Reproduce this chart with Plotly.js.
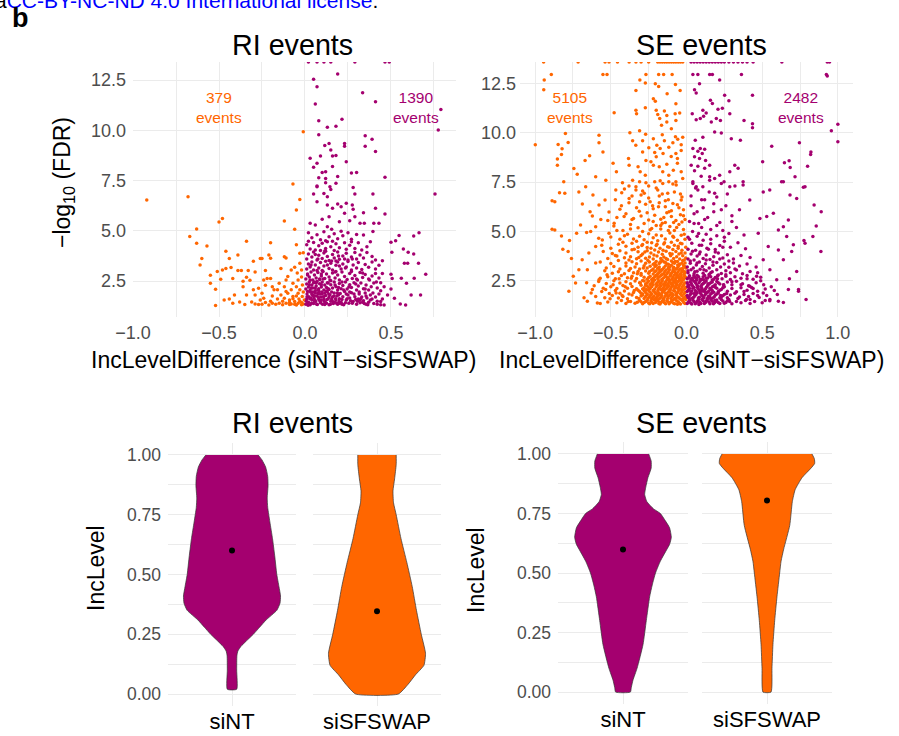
<!DOCTYPE html>
<html>
<head>
<meta charset="utf-8">
<script src="https://cdn.plot.ly/plotly-3.0.1.min.js"></script>
<style>html,body{margin:0;padding:0;background:#fff;}#chart{width:899px;height:736px;}</style>
</head>
<body>
<div id="chart"></div>
<script>
// ---------------- DATA ----------------
// RI events: IncLevelDifference vs -log10(FDR)
const riDown = [[-0.92,6.53],[-0.68,6.7],[-0.07,7.33],[-0.03,6.56],[-0.05,6.03],[-0.06,5.08],[-0.12,5.49],[-0.48,5.61],[-0.5,5.44],[-0.63,5.09],[-0.67,4.71],[-0.63,4.38],[-0.57,4.24],[-0.05,4.31],[-0.34,4.48],[-0.2,4.4],[-0.46,3.98],[-0.6,3.62],[-0.61,3.3],[-0.44,3.62],[-0.39,3.8],[-0.26,3.62],[-0.25,3.62],[-0.21,3.8],[-0.2,3.63],[-0.12,3.71],[-0.11,3.65],[-0.3,3.49],[-0.03,3.88],[-0.01,3.91],[-0.55,2.79],[-0.51,2.97],[-0.48,3.05],[-0.46,3.12],[-0.43,3.17],[-0.49,2.59],[-0.55,2.39],[-0.52,2.09],[-0.39,3.02],[-0.37,3.02],[-0.33,3.02],[-0.34,2.69],[-0.42,2.62],[-0.36,2.49],[-0.32,2.54],[-0.29,2.95],[-0.23,3.02],[-0.14,3.12],[-0.1,2.73],[-0.08,3.05],[-0.06,3.18],[-0.03,3.38],[-0.02,3.05],[-0.24,2.55],[-0.22,2.62],[-0.2,2.62],[-0.23,2.29],[-0.19,2.22],[-0.15,2.39],[-0.16,2.06],[-0.11,2.55],[-0.07,2.39],[-0.05,2.22],[-0.04,2.55],[-0.36,2.22],[-0.34,1.81],[-0.41,1.81],[-0.3,2.06],[-0.29,1.81],[-0.47,1.56],[-0.42,1.39],[-0.52,1.28],[-0.38,1.46],[-0.31,1.46],[-0.29,1.36],[-0.26,1.56],[-0.24,1.64],[-0.23,1.43],[-0.21,1.31],[-0.19,1.39],[-0.19,1.76],[-0.16,1.6],[-0.15,1.39],[-0.14,1.81],[-0.12,1.64],[-0.11,1.39],[-0.1,1.89],[-0.09,1.56],[-0.08,1.36],[-0.07,1.73],[-0.06,1.48],[-0.05,1.31],[-0.04,1.89],[-0.035,1.6],[-0.02,1.43],[-0.016,1.73],[-0.01,1.36],[-0.004,1.56],[-0.03,2.06],[-0.08,2.06],[-0.18,2.06],[-0.12,2.22],[-0.27,2.14],[-0.25,1.89],[-0.01,9.93],[-0.02,1.32],[-0.04,1.4],[-0.06,1.34],[-0.09,1.33],[-0.13,1.32],[-0.17,1.35],[-0.03,1.5],[-0.07,1.62],[-0.01,1.95],[-0.015,2.3],[-0.05,1.75],[-0.09,1.45],[-0.13,1.5],[-0.27,1.33],[-0.35,1.33],[-0.44,1.6],[-0.02,2.7],[-0.045,2.9],[-0.11,1.98],[-0.2,1.5],[-0.25,1.35]];

const riUp = [[0.02,13.4],[0.07,13.4],[0.11,13.4],[0.15,13.4],[0.29,13.4],[0.465,13.4],[0.49,13.4],[0.19,12.8],[0.05,12.54],[0.07,12.17],[0.335,11.87],[0.41,11.42],[0.06,11.31],[0.79,11.04],[0.775,10.01],[0.215,10.55],[0.08,10.48],[0.13,10.15],[0.18,10.2],[0.08,9.78],[0.35,9.73],[0.39,9.55],[0.14,9.35],[0.115,9.24],[0.23,9.35],[0.23,9.21],[0.35,9.21],[0.15,9.02],[0.41,8.94],[0.03,8.61],[0.09,8.72],[0.16,8.72],[0.18,8.75],[0.07,8.36],[0.24,8.44],[0.05,8.16],[0.16,8.2],[0.12,7.94],[0.1,7.9],[0.27,7.88],[0.3,7.9],[0.08,7.64],[0.12,7.6],[0.19,7.7],[0.465,7.67],[0.12,7.39],[0.07,7.19],[0.145,7.19],[0.28,7.15],
[0.07,7.23],[0.18,7.36],[0.05,6.83],[0.11,6.86],[0.13,6.7],[0.15,7.06],[0.29,6.83],[0.395,6.83],[0.07,6.45],[0.13,6.28],[0.16,6.12],[0.19,6.33],[0.21,6.2],[0.24,6.37],[0.275,6.28],[0.28,6.07],[0.34,5.9],[0.41,6.12],[0.465,5.84],[0.756,6.83],[0.03,5.37],[0.06,5.29],[0.1,5.57],[0.13,5.2],[0.14,5.7],[0.155,5.08],[0.2,5.45],[0.23,5.87],[0.26,5.5],[0.29,5.7],[0.32,5.37],[0.345,5.37],[0.4,5.37],[0.43,5.37],[0.34,4.79],[0.395,4.96],[0.547,4.76],[0.632,4.74],[0.663,4.9],[0.5,4.43],[0.527,4.51],[0.505,3.93],[0.572,4.1],[0.6,3.93],[0.632,3.85],[0.578,3.38],[0.597,3.38],[0.66,3.38],[0.702,2.84],[0.635,2.64],[0.56,2.64],[0.5,2.84],[0.507,2.62],[0.59,2.39],[0.5,2.1],[0.48,1.81],[0.52,1.64],[0.617,1.81],[0.672,1.81],[0.554,1.36],[0.585,1.31],[0.45,2.88],[0.44,2.42],[0.46,2.22],[0.44,1.48],[0.46,1.31],[0.45,3.51],[0.43,3.28],
[0.02,4.9],[0.04,4.65],[0.07,4.8],[0.09,4.55],[0.11,4.95],[0.14,4.7],[0.17,4.85],[0.19,4.6],[0.22,4.75],[0.25,4.9],[0.27,4.58],[0.3,4.82],[0.21,4.98],[0.12,4.5],
[0.01,4.3],[0.03,4.1],[0.05,4.42],[0.06,4.05],[0.08,4.25],[0.1,4.38],[0.12,4.12],[0.13,4.45],[0.15,4.2],[0.17,4.02],[0.18,4.35],[0.2,4.15],[0.23,4.4],[0.24,4.08],[0.26,4.28],[0.29,4.12],[0.31,4.4],[0.33,4.05],[0.36,4.2],[0.38,4.45],[0.02,4.48],[0.09,4.02],[0.16,4.48],[0.27,4.46],
[0.01,3.6],[0.02,3.85],[0.04,3.7],[0.05,3.95],[0.07,3.55],[0.08,3.78],[0.1,3.62],[0.11,3.9],[0.13,3.72],[0.14,3.52],[0.16,3.82],[0.17,3.65],[0.19,3.95],[0.2,3.58],[0.22,3.75],[0.24,3.88],[0.25,3.55],[0.27,3.7],[0.29,3.92],[0.3,3.6],[0.32,3.8],[0.34,3.65],[0.36,3.92],[0.39,3.72],[0.41,3.55],[0.06,3.82],[0.12,3.98],[0.18,3.5],[0.23,3.6],
[0.01,3.1],[0.02,3.35],[0.03,3.2],[0.04,3.45],[0.05,3.05],[0.06,3.3],[0.08,3.15],[0.09,3.42],[0.1,3.02],[0.11,3.25],[0.12,3.48],[0.14,3.12],[0.15,3.38],[0.16,3.05],[0.18,3.28],[0.19,3.45],[0.21,3.1],[0.22,3.35],[0.24,3.2],[0.25,3.47],[0.27,3.05],[0.28,3.3],[0.3,3.15],[0.31,3.42],[0.33,3.08],[0.35,3.32],[0.37,3.18],[0.39,3.45],[0.41,3.1],[0.13,3.3],[0.07,3.02],[0.2,3.25],
[0.005,2.6],[0.015,2.85],[0.025,2.7],[0.035,2.95],[0.045,2.55],[0.055,2.8],[0.065,2.65],[0.075,2.92],[0.085,2.58],[0.095,2.75],[0.105,2.98],[0.115,2.62],[0.125,2.85],[0.14,2.7],[0.15,2.52],[0.16,2.9],[0.175,2.65],[0.19,2.8],[0.2,2.55],[0.215,2.95],[0.23,2.72],[0.245,2.58],[0.26,2.88],[0.275,2.62],[0.29,2.78],[0.305,2.55],[0.32,2.92],[0.335,2.68],[0.35,2.82],[0.37,2.6],[0.39,2.75],[0.41,2.88],[0.43,2.65],[0.18,2.98],[0.27,2.98],
[0.005,2.1],[0.01,2.35],[0.02,2.2],[0.025,2.45],[0.03,2.05],[0.04,2.3],[0.045,2.15],[0.05,2.42],[0.06,2.02],[0.065,2.25],[0.07,2.48],[0.08,2.12],[0.085,2.36],[0.095,2.2],[0.1,2.45],[0.11,2.05],[0.115,2.3],[0.125,2.18],[0.13,2.42],[0.14,2.08],[0.15,2.32],[0.16,2.15],[0.17,2.45],[0.18,2.22],[0.19,2.05],[0.2,2.38],[0.21,2.12],[0.22,2.28],[0.235,2.45],[0.245,2.1],[0.26,2.32],[0.27,2.18],[0.285,2.42],[0.3,2.05],[0.31,2.25],[0.325,2.4],[0.34,2.12],[0.355,2.3],[0.37,2.05],[0.385,2.22],[0.4,2.4],[0.42,2.15],[0.44,2.02],
[0.005,1.35],[0.01,1.6],[0.012,1.85],[0.02,1.45],[0.022,1.72],[0.03,1.32],[0.032,1.95],[0.04,1.55],[0.042,1.8],[0.05,1.38],[0.052,1.65],[0.06,1.9],[0.062,1.48],[0.07,1.75],[0.072,1.33],[0.08,1.58],[0.082,1.98],[0.09,1.42],[0.092,1.7],[0.1,1.85],[0.102,1.35],[0.11,1.6],[0.112,1.5],[0.12,1.78],[0.125,1.4],[0.13,1.95],[0.135,1.62],[0.14,1.32],[0.145,1.82],[0.15,1.5],[0.16,1.7],[0.165,1.38],[0.17,1.9],[0.18,1.55],[0.185,1.75],[0.19,1.35],[0.2,1.62],[0.205,1.88],[0.21,1.45],[0.22,1.72],[0.225,1.32],[0.23,1.98],[0.24,1.55],[0.25,1.8],[0.255,1.4],[0.26,1.65],[0.27,1.92],[0.28,1.48],[0.29,1.72],[0.3,1.35],[0.31,1.6],[0.315,1.85],[0.32,1.42],[0.33,1.7],[0.34,1.52],[0.35,1.9],[0.355,1.35],[0.36,1.65],[0.37,1.45],[0.38,1.8],[0.39,1.6],[0.4,1.38],[0.41,1.7],[0.42,1.5],[0.43,1.85],[0.44,1.32],[0.45,1.6],[0.015,1.4],[0.035,1.65],[0.055,1.52],[0.075,1.88],[0.095,1.55],[0.115,1.33],[0.155,1.6],[0.175,1.44],[0.195,1.8],[0.215,1.58],[0.235,1.42],[0.265,1.52],[0.285,1.85],[0.305,1.5],[0.325,1.62],[0.345,1.38]];

// denser core of the RI up-regulated cloud
const riUpDense = [[0.008,1.5],[0.018,1.3],[0.028,1.62],[0.038,1.4],[0.048,1.78],[0.058,1.55],[0.068,1.35],[0.078,1.68],[0.088,1.5],[0.098,1.95],[0.108,1.72],[0.118,1.45],[0.128,1.58],[0.138,1.85],[0.148,1.35],[0.158,1.52],[0.168,1.75],[0.178,1.62],[0.188,1.9],[0.198,1.48],[0.015,1.98],[0.035,2.15],[0.055,1.75],[0.075,2.05],[0.095,2.32],[0.115,1.9],[0.135,2.12],[0.155,1.95],[0.175,2.3],[0.195,2.18],[0.025,2.32],[0.065,2.4],[0.105,2.6],[0.145,2.55],[0.012,1.72],[0.045,1.95],[0.085,1.85],[0.125,2.0],[0.165,1.45],[0.185,1.38],[0.215,1.35],[0.245,1.62],[0.275,1.4],[0.295,1.58],[0.335,1.45],[0.365,1.32],
[0.015,2.8],[0.035,3.3],[0.055,2.45],[0.075,3.6],[0.095,2.85],[0.115,4.0],[0.135,2.4],[0.155,3.5],[0.175,2.95],[0.195,3.75],[0.215,2.45],[0.235,3.15],[0.255,2.2],[0.275,3.6],[0.295,2.35],[0.315,1.95],[0.335,2.9],[0.355,1.75],[0.375,2.55],[0.395,1.9],[0.415,2.45],[0.42,1.35],[0.38,1.55],[0.26,1.95],[0.32,1.55],[0.225,2.05],[0.06,2.15],[0.03,2.55],[0.085,2.6],[0.04,1.85],[0.14,1.7],[0.24,1.85],[0.3,2.6],[0.35,2.1],[0.2,1.4]];

// SE events
const seDown = [[-0.944,13.59],[-0.716,13.59],[-0.538,13.59],[-0.512,13.59],[-0.456,13.59],[-0.379,13.59],[-0.334,13.59],[-0.3,13.59],[-0.25,13.59],[-0.19,13.59],[-0.175,13.59],[-0.16,13.59],[-0.145,13.59],[-0.13,13.59],[-0.115,13.59],[-0.1,13.59],[-0.085,13.59],[-0.07,13.59],[-0.055,13.59],[-0.04,13.59],[-0.025,13.59],
[-0.893,12.95],[-0.94,12.68],[-0.943,12.18],[-0.552,12.95],[-0.525,12.95],[-0.268,12.95],[-0.184,12.95],[-0.151,12.95],[-0.095,12.95],[-0.308,12.68],[-0.272,12.52],[-0.206,12.49],[-0.184,12.35],[-0.073,12.45],[-0.128,11.98],[-0.334,12.15],[-0.219,11.73],[-0.206,11.6],[-0.042,12.15],[-0.07,11.47],[-0.478,11.02],[-0.334,11.14],[-0.33,10.97],[-0.272,11.27],[-0.2,11.14],[-0.19,10.93],[-0.177,10.72],[-0.146,11.1],[-0.13,10.88],[-0.075,10.97],[-0.07,10.63],[-0.165,10.38],[-0.13,10.55],[-0.8,9.97],[-0.782,9.51],[-0.848,9.41],[-0.822,9.19],[-0.999,9.4],[-0.578,9.87],[-0.578,9.5],[-0.552,9.03],[-0.64,8.84],[-0.67,8.6],[-0.853,8.67],[-0.826,8.9],[-0.853,8.36],[-0.374,10.0],[-0.31,10.1],[-0.27,9.93],[-0.356,9.6],[-0.335,9.37],[-0.29,9.6],[-0.249,9.24],[-0.219,9.7],[-0.196,9.37],[-0.174,9.2],[-0.146,9.6],[-0.117,9.27],[-0.09,9.5],[-0.073,9.8],[-0.058,9.67],[-0.025,9.78],[-0.035,9.4],[-0.035,9.1],[-0.07,8.95],[-0.101,8.8],[-0.155,8.95],[-0.2,8.78],[-0.235,8.53],[-0.268,8.6],[-0.29,9.03],[-0.383,8.7],[-0.379,8.36],[-0.485,8.45],[-0.463,8.03],[-0.32,8.28],[-0.306,8.02],[-0.272,7.85],[-0.219,8.36],[-0.18,8.28],[-0.157,8.02],[-0.117,7.85],[-0.087,8.1],[-0.06,8.45],[-0.035,8.02],[-0.025,7.68],[-0.07,7.52],[-0.117,7.52],[-0.174,7.57],[-0.21,7.52],[-0.31,7.52],[-0.356,7.6],[-0.423,7.47],[-0.533,7.6],[-0.6,7.77],[-0.722,7.9],[-0.811,7.52],[-0.744,8.19],[-0.334,7.27],[-0.25,7.3],
[-0.888,6.56],[-0.888,5.11],[-0.839,6.96],[-0.804,6.93],[-0.817,4.1],[-0.826,4.77],[-0.782,3.98],[-0.773,4.54],[-0.76,3.63],[-0.777,1.96],[-0.748,2.72],[-0.711,7.0],[-0.688,6.39],[-0.733,2.38],[-0.677,1.63],[-0.666,7.26],[-0.618,6.84],[-0.578,6.34],[-0.637,6.0],[-0.622,5.78],[-0.7,5.33],[-0.726,4.91],[-0.633,4.99],[-0.6,5.24],[-0.566,5.61],[-0.512,5.98],[-0.538,6.59],[-0.467,7.1],[-0.428,6.96],[-0.379,6.67],[-0.334,7.1],[-0.268,7.47],[-0.157,7.43],[-0.068,7.35],[-0.279,6.93],[-0.18,6.8],[-0.124,6.93],[-0.035,6.59],[-0.09,6.42],[-0.224,6.3],[-0.312,6.02],[-0.412,5.75],[-0.478,5.41],[-0.512,4.91],[-0.556,4.57],[-0.6,4.23],[-0.645,3.9],[-0.689,3.56],[-0.655,3.06],[-0.711,3.06],[-0.6,3.4],[-0.578,2.55],[-0.534,2.05],[-0.622,2.05],[-0.655,1.46],[-0.589,1.37],[-0.87,6.5],[-0.87,5.07],
[-0.01,1.35],[-0.025,1.48],[-0.04,1.32],[-0.055,1.42],[-0.07,1.52],[-0.085,1.36],[-0.1,1.45],[-0.115,1.33],[-0.13,1.5],[-0.145,1.38],[-0.16,1.46],[-0.175,1.32],[-0.19,1.53],[-0.205,1.4],[-0.22,1.34],[-0.235,1.49],[-0.25,1.37],[-0.27,1.44],[-0.29,1.33],[-0.31,1.5],[-0.34,1.36],[-0.37,1.45],[-0.4,1.34],[-0.43,1.5],[-0.46,1.38],[-0.52,1.42],[-0.57,1.35],[-0.005,1.55],[-0.06,1.31],[-0.18,1.42],
[-0.005,1.7],[-0.02,1.6],[-0.035,1.78],[-0.05,1.63],[-0.065,1.74],[-0.08,1.58],[-0.095,1.69],[-0.11,1.79],[-0.125,1.6],[-0.14,1.72],[-0.155,1.57],[-0.17,1.66],[-0.185,1.78],[-0.2,1.62],[-0.215,1.73],[-0.23,1.58],[-0.245,1.68],[-0.26,1.79],[-0.28,1.6],[-0.3,1.72],[-0.33,1.65],[-0.36,1.77],[-0.39,1.59],[-0.42,1.7],[-0.45,1.62],[-0.49,1.75],[-0.54,1.64],[-0.6,1.7],
[-0.01,1.9],[-0.025,2.02],[-0.04,1.84],[-0.055,1.95],[-0.07,1.82],[-0.085,2.0],[-0.1,1.88],[-0.115,1.97],[-0.13,1.83],[-0.145,2.03],[-0.16,1.9],[-0.175,1.81],[-0.19,1.98],[-0.205,1.86],[-0.22,2.01],[-0.24,1.92],[-0.26,1.83],[-0.28,1.99],[-0.3,1.87],[-0.32,2.02],[-0.35,1.9],[-0.38,1.82],[-0.41,1.98],[-0.44,1.87],[-0.47,2.0],[-0.51,1.85],[-0.56,1.95],[-0.63,1.88],
[-0.005,2.15],[-0.02,2.26],[-0.035,2.08],[-0.05,2.2],[-0.065,2.29],[-0.08,2.1],[-0.095,2.22],[-0.11,2.06],[-0.125,2.17],[-0.14,2.28],[-0.155,2.12],[-0.17,2.24],[-0.185,2.07],[-0.2,2.19],[-0.22,2.29],[-0.24,2.1],[-0.26,2.23],[-0.28,2.14],[-0.3,2.27],[-0.33,2.09],[-0.36,2.21],[-0.39,2.12],[-0.42,2.26],[-0.46,2.1],[-0.5,2.2],[-0.55,2.12],[-0.61,2.25],
[-0.01,2.4],[-0.025,2.52],[-0.04,2.34],[-0.055,2.46],[-0.07,2.37],[-0.085,2.5],[-0.1,2.32],[-0.115,2.44],[-0.13,2.54],[-0.145,2.36],[-0.16,2.48],[-0.175,2.33],[-0.19,2.42],[-0.21,2.53],[-0.23,2.38],[-0.25,2.47],[-0.27,2.33],[-0.29,2.51],[-0.31,2.4],[-0.34,2.49],[-0.37,2.35],[-0.4,2.45],[-0.44,2.38],[-0.48,2.5],[-0.53,2.36],[-0.58,2.46],[-0.66,2.4],
[-0.005,2.66],[-0.02,2.58],[-0.035,2.75],[-0.05,2.62],[-0.065,2.7],[-0.08,2.79],[-0.095,2.6],[-0.11,2.72],[-0.125,2.64],[-0.14,2.77],[-0.16,2.59],[-0.18,2.69],[-0.2,2.78],[-0.22,2.63],[-0.24,2.73],[-0.26,2.58],[-0.28,2.68],[-0.3,2.78],[-0.33,2.61],[-0.36,2.72],[-0.39,2.65],[-0.43,2.76],[-0.47,2.6],[-0.52,2.7],[-0.57,2.63],
[-0.01,2.9],[-0.025,3.02],[-0.04,2.84],[-0.055,2.96],[-0.07,2.88],[-0.09,3.0],[-0.105,2.83],[-0.12,2.94],[-0.135,3.04],[-0.15,2.87],[-0.17,2.98],[-0.19,2.85],[-0.21,2.95],[-0.23,3.03],[-0.25,2.88],[-0.27,2.99],[-0.3,2.86],[-0.32,2.97],[-0.35,2.9],[-0.38,3.02],[-0.41,2.85],[-0.45,2.95],[-0.49,2.88],[-0.54,3.0],
[-0.005,3.15],[-0.02,3.27],[-0.04,3.1],[-0.055,3.22],[-0.07,3.08],[-0.085,3.18],[-0.1,3.29],[-0.12,3.12],[-0.14,3.24],[-0.16,3.07],[-0.18,3.2],[-0.2,3.28],[-0.22,3.1],[-0.24,3.23],[-0.26,3.14],[-0.28,3.26],[-0.31,3.09],[-0.34,3.2],[-0.37,3.12],[-0.4,3.25],[-0.44,3.1],[-0.48,3.22],[-0.53,3.15],
[-0.01,3.4],[-0.025,3.52],[-0.045,3.35],[-0.06,3.47],[-0.08,3.38],[-0.1,3.5],[-0.12,3.33],[-0.14,3.44],[-0.16,3.53],[-0.18,3.37],[-0.2,3.48],[-0.22,3.34],[-0.245,3.45],[-0.27,3.38],[-0.3,3.5],[-0.33,3.36],[-0.36,3.46],[-0.4,3.4],[-0.45,3.52],[-0.5,3.37],[-0.57,3.45],
[-0.005,3.65],[-0.025,3.76],[-0.045,3.6],[-0.065,3.72],[-0.085,3.63],[-0.105,3.77],[-0.125,3.58],[-0.15,3.7],[-0.17,3.62],[-0.195,3.75],[-0.22,3.6],[-0.245,3.7],[-0.27,3.64],[-0.3,3.78],[-0.33,3.61],[-0.37,3.72],[-0.41,3.66],[-0.46,3.75],[-0.52,3.62],
[-0.01,3.9],[-0.03,4.05],[-0.05,3.85],[-0.07,3.98],[-0.09,4.08],[-0.11,3.88],[-0.135,4.0],[-0.16,3.84],[-0.185,3.96],[-0.21,4.06],[-0.235,3.9],[-0.26,4.02],[-0.29,3.86],[-0.32,3.97],[-0.36,4.07],[-0.4,3.9],[-0.44,4.02],[-0.49,3.88],[-0.55,3.98],
[-0.005,4.2],[-0.03,4.38],[-0.055,4.15],[-0.08,4.3],[-0.1,4.45],[-0.125,4.22],[-0.15,4.36],[-0.175,4.14],[-0.2,4.28],[-0.23,4.42],[-0.26,4.18],[-0.29,4.33],[-0.32,4.2],[-0.36,4.4],[-0.4,4.25],[-0.45,4.35],[-0.5,4.15],[-0.56,4.3],
[-0.01,4.6],[-0.035,4.8],[-0.06,4.55],[-0.085,4.7],[-0.11,4.92],[-0.14,4.62],[-0.165,4.78],[-0.19,4.52],[-0.22,4.68],[-0.25,4.88],[-0.28,4.58],[-0.31,4.75],[-0.35,4.62],[-0.39,4.85],[-0.44,4.6],[-0.5,4.72],[-0.58,4.65],[-0.66,4.95],
[-0.02,5.1],[-0.05,5.35],[-0.08,5.05],[-0.11,5.25],[-0.14,5.45],[-0.17,5.12],[-0.2,5.3],[-0.24,5.08],[-0.28,5.4],[-0.32,5.18],[-0.37,5.35],[-0.42,5.05],[-0.48,5.28],[-0.03,5.48],[-0.16,5.42],
[-0.01,5.6],[-0.04,5.85],[-0.07,5.55],[-0.1,5.75],[-0.13,5.95],[-0.17,5.62],[-0.21,5.82],[-0.25,5.58],[-0.3,5.78],[-0.35,5.65],[-0.4,5.9],[-0.46,5.7],[-0.52,5.55],
[-0.02,6.1],[-0.06,6.35],[-0.1,6.05],[-0.14,6.25],[-0.18,6.45],[-0.22,6.15],[-0.27,6.38],[-0.33,6.2],[-0.38,6.45],[-0.44,6.12],
[-0.03,6.75],[-0.08,7.0],[-0.12,6.6],[-0.16,6.9],[-0.2,7.2],[-0.25,6.7],[-0.29,7.05],[-0.36,6.8],[-0.41,7.15],[-0.47,6.6]];

// denser core of the SE down cloud
const seDownDense = [[-0.018,1.4],[-0.032,1.54],[-0.048,1.37],[-0.063,1.47],[-0.078,1.33],[-0.093,1.51],[-0.108,1.39],[-0.122,1.43],[-0.138,1.33],[-0.152,1.52],[-0.168,1.4],[-0.183,1.35],[-0.198,1.47],[-0.213,1.53],[-0.228,1.41],[-0.243,1.33],[-0.26,1.51],[-0.28,1.39],[-0.3,1.43],[-0.325,1.41],
[-0.012,1.64],[-0.028,1.72],[-0.043,1.57],[-0.058,1.68],[-0.072,1.61],[-0.088,1.76],[-0.103,1.6],[-0.118,1.71],[-0.133,1.77],[-0.148,1.63],[-0.163,1.75],[-0.178,1.6],[-0.193,1.7],[-0.208,1.57],[-0.223,1.66],[-0.238,1.76],[-0.255,1.6],[-0.27,1.7],[-0.29,1.77],[-0.315,1.6],
[-0.017,1.82],[-0.032,1.93],[-0.047,2.04],[-0.062,1.87],[-0.077,1.96],[-0.093,1.82],[-0.107,2.03],[-0.122,1.91],[-0.138,1.86],[-0.152,1.97],[-0.168,2.04],[-0.183,1.88],[-0.197,1.83],[-0.213,1.95],[-0.23,1.84],[-0.25,2.0],[-0.27,1.9],[-0.29,1.82],[-0.31,1.95],
[-0.012,2.08],[-0.028,2.18],[-0.043,2.28],[-0.058,2.11],[-0.072,2.2],[-0.088,2.27],[-0.103,2.14],[-0.118,2.25],[-0.133,2.09],[-0.148,2.2],[-0.163,2.05],[-0.178,2.15],[-0.193,2.27],[-0.21,2.08],[-0.23,2.2],[-0.25,2.16],[-0.27,2.27],[-0.29,2.08],
[-0.017,2.33],[-0.032,2.43],[-0.048,2.52],[-0.062,2.31],[-0.078,2.44],[-0.093,2.38],[-0.108,2.52],[-0.122,2.35],[-0.138,2.45],[-0.152,2.31],[-0.168,2.4],[-0.183,2.5],[-0.2,2.35],[-0.22,2.45],[-0.24,2.31],[-0.26,2.4],[-0.28,2.48],
[-0.012,2.73],[-0.028,2.64],[-0.043,2.56],[-0.058,2.77],[-0.072,2.6],[-0.088,2.68],[-0.103,2.78],[-0.118,2.57],[-0.133,2.7],[-0.15,2.65],[-0.17,2.76],[-0.19,2.6],[-0.21,2.7],[-0.23,2.56],[-0.25,2.66],
[-0.017,2.83],[-0.032,2.94],[-0.048,3.05],[-0.063,2.86],[-0.08,2.95],[-0.098,2.9],[-0.113,3.05],[-0.128,2.86],[-0.143,2.97],[-0.16,2.82],[-0.18,2.92],[-0.2,3.0],[-0.22,2.84],
[-0.012,3.22],[-0.03,3.38],[-0.048,3.3],[-0.065,3.12],[-0.09,3.42],[-0.11,3.2],[-0.13,3.35],[-0.15,3.16],[-0.17,3.45],[-0.19,3.13],[-0.21,3.38],
[-0.015,3.55],[-0.035,3.9],[-0.055,4.25],[-0.075,3.48],[-0.095,3.85],[-0.115,4.2],[-0.135,3.62],[-0.155,4.05],[-0.175,3.45],[-0.195,4.35],[-0.215,3.8],[-0.235,4.15],[-0.255,3.52],[-0.275,3.95],[-0.295,4.28],[-0.315,3.68],[-0.345,4.1],[-0.38,3.55],[-0.42,4.45],[-0.47,3.78],
[-0.015,4.85],[-0.04,4.4],[-0.065,5.2],[-0.09,4.75],[-0.12,5.05],[-0.145,4.42],[-0.17,5.3],[-0.2,4.82],[-0.23,5.15],[-0.26,4.45],[-0.29,5.0],[-0.33,4.5],[-0.37,5.12],[-0.41,4.78],[-0.46,5.05],
[-0.02,5.8],[-0.05,6.2],[-0.085,5.45],[-0.115,6.0],[-0.15,5.7],[-0.185,6.25],[-0.22,5.5],[-0.26,5.95],[-0.31,6.5],[-0.36,5.6],[-0.43,6.3],
[-0.04,6.9],[-0.09,7.4],[-0.14,6.55],[-0.19,7.1],[-0.24,6.5],[-0.3,6.85],[-0.38,7.3],[-0.06,8.7],[-0.13,8.4],[-0.21,9.0],[-0.1,10.2],[-0.045,11.0],[-0.16,9.9],
[-0.012,2.95],[-0.027,3.12],[-0.043,2.7],[-0.058,3.3],[-0.073,2.5],[-0.088,3.1],[-0.103,2.38],[-0.118,3.2],[-0.133,2.28],[-0.148,3.45],[-0.163,2.55],[-0.178,3.05],[-0.193,2.72],[-0.208,3.22],[-0.225,2.48],[-0.245,2.95],[-0.265,2.05],[-0.285,3.15],[-0.305,2.38],[-0.325,2.85],[-0.345,2.0],[-0.365,2.62],[-0.385,1.45],[-0.405,2.2],[-0.425,1.75],[-0.445,2.6],[-0.465,1.88],[-0.485,2.3],[-0.505,1.58],[-0.525,2.8]];

const seUp = [[0.03,13.59],[0.05,13.59],[0.07,13.59],[0.09,13.59],[0.11,13.59],[0.13,13.59],[0.15,13.59],[0.17,13.59],[0.19,13.59],[0.21,13.59],[0.23,13.59],[0.25,13.59],[0.28,13.59],[0.31,13.59],[0.34,13.59],[0.37,13.59],[0.4,13.59],[0.44,13.59],[0.63,13.59],[0.93,13.59],[0.945,13.59],
[0.042,12.95],[0.075,12.95],[0.153,12.95],[0.171,12.95],[0.219,12.68],[0.363,12.95],[0.924,12.95],[0.086,12.49],[0.053,12.18],[0.064,12.02],[0.252,11.9],[0.28,11.62],[0.158,11.65],[0.171,11.48],[0.208,11.19],[0.237,11.24],[0.436,11.9],[0.038,10.97],[0.108,11.14],[0.113,10.84],[0.13,11.0],[0.064,10.66],[0.091,10.72],[0.164,10.55],[0.197,10.72],[0.224,10.63],[0.186,10.04],[0.23,9.99],[0.286,10.97],[0.38,10.63],[0.436,10.46],[0.436,10.26],[0.296,9.7],[0.356,9.62],[0.058,9.62],[0.108,9.78],[0.042,9.2],[0.075,9.07],[0.091,9.2],[0.104,8.95],[0.12,9.17],[0.053,8.78],[0.086,8.7],[0.126,8.6],[0.031,8.36],[0.075,8.3],[0.12,8.2],[0.153,8.36],[0.053,8.07],[0.097,7.8],[0.153,7.77],[0.186,7.68],[0.219,7.85],[0.286,8.02],[0.319,8.36],[0.341,8.2],[0.503,8.53],[0.563,9.32],[0.746,9.49],[0.822,9.03],[0.82,8.9],[0.957,10.1],[1.0,9.55],[1.0,10.43],[0.678,8.58],[0.685,8.24],[0.647,8.48],[0.8,8.3],[0.717,7.77],[0.64,7.52],[0.783,7.27],[0.248,7.52],[0.286,7.27],[0.374,7.35],[0.042,7.52],[0.064,7.27],[0.93,12.88],
[0.042,7.43],[0.075,7.1],[0.108,7.27],[0.153,7.6],[0.186,6.93],[0.23,7.43],[0.374,7.52],[0.418,6.59],[0.507,7.0],[0.55,7.1],[0.628,7.52],[0.684,6.84],[0.728,6.67],[0.772,7.24],[0.843,6.34],[0.89,6.0],[0.857,5.28],[0.835,4.74],[0.888,3.98],[0.776,4.54],[0.783,4.4],[0.706,4.32],[0.662,4.74],[0.64,5.24],[0.607,5.07],[0.673,5.58],[0.574,5.92],[0.53,5.75],[0.485,5.66],[0.474,4.91],[0.54,4.23],[0.607,4.06],[0.64,3.56],[0.695,3.98],[0.728,2.97],[0.74,2.05],[0.79,1.55],[0.74,1.96],[0.673,2.05],[0.596,2.55],[0.551,3.06],[0.507,3.56],[0.463,2.72],[0.418,2.22],[0.396,1.55],[0.507,1.88],[0.551,1.55],[0.607,1.46],
[0.005,1.35],[0.02,1.5],[0.035,1.32],[0.05,1.45],[0.065,1.38],[0.08,1.55],[0.095,1.34],[0.11,1.48],[0.125,1.4],[0.14,1.56],[0.155,1.33],[0.17,1.46],[0.185,1.38],[0.2,1.52],[0.22,1.35],[0.24,1.47],[0.26,1.4],[0.28,1.55],[0.3,1.33],[0.33,1.45],[0.36,1.38],[0.39,1.5],[0.42,1.35],[0.45,1.44],[0.5,1.38],[0.55,1.48],
[0.01,1.65],[0.025,1.8],[0.04,1.62],[0.055,1.75],[0.07,1.88],[0.085,1.66],[0.1,1.78],[0.115,1.63],[0.13,1.85],[0.145,1.7],[0.16,1.82],[0.175,1.62],[0.19,1.76],[0.21,1.88],[0.23,1.68],[0.25,1.8],[0.27,1.64],[0.29,1.77],[0.32,1.86],[0.35,1.67],[0.38,1.8],[0.41,1.7],[0.44,1.85],[0.48,1.65],[0.53,1.75],
[0.005,1.95],[0.02,2.1],[0.035,1.98],[0.05,2.15],[0.065,1.93],[0.08,2.05],[0.095,2.18],[0.11,1.96],[0.125,2.08],[0.14,1.92],[0.155,2.12],[0.17,2.0],[0.19,2.17],[0.21,1.95],[0.23,2.06],[0.25,2.19],[0.27,1.97],[0.3,2.1],[0.33,1.94],[0.36,2.14],[0.4,2.02],[0.43,2.15],[0.47,1.96],[0.52,2.08],[0.58,2.0],
[0.01,2.3],[0.025,2.45],[0.04,2.25],[0.06,2.38],[0.075,2.22],[0.09,2.48],[0.105,2.32],[0.12,2.42],[0.14,2.26],[0.16,2.4],[0.18,2.23],[0.2,2.46],[0.22,2.33],[0.245,2.28],[0.27,2.44],[0.3,2.3],[0.33,2.47],[0.37,2.35],[0.41,2.25],[0.46,2.4],[0.51,2.3],
[0.005,2.6],[0.02,2.75],[0.04,2.55],[0.055,2.68],[0.07,2.78],[0.09,2.58],[0.11,2.7],[0.13,2.62],[0.15,2.77],[0.17,2.54],[0.19,2.66],[0.21,2.79],[0.235,2.6],[0.26,2.72],[0.29,2.56],[0.32,2.7],[0.36,2.62],[0.4,2.76],[0.44,2.58],[0.49,2.68],
[0.01,2.9],[0.03,3.05],[0.05,2.85],[0.07,2.98],[0.09,3.08],[0.11,2.88],[0.13,3.0],[0.15,2.83],[0.17,2.95],[0.2,3.06],[0.23,2.87],[0.26,3.0],[0.29,2.9],[0.33,3.04],[0.37,2.85],[0.42,2.97],[0.47,2.9],
[0.005,3.2],[0.025,3.38],[0.045,3.15],[0.065,3.3],[0.085,3.45],[0.105,3.22],[0.125,3.36],[0.15,3.14],[0.175,3.28],[0.2,3.42],[0.225,3.2],[0.25,3.35],[0.28,3.18],[0.31,3.4],[0.35,3.25],[0.4,3.35],[0.46,3.2],
[0.01,3.6],[0.03,3.85],[0.05,3.55],[0.07,3.75],[0.09,3.95],[0.11,3.62],[0.13,3.8],[0.155,3.58],[0.18,3.72],[0.21,3.9],[0.24,3.65],[0.27,3.82],[0.31,3.6],[0.36,3.78],[0.42,3.68],
[0.01,4.1],[0.035,4.4],[0.06,4.05],[0.085,4.3],[0.11,4.55],[0.135,4.15],[0.16,4.38],[0.19,4.08],[0.22,4.28],[0.25,4.5],[0.29,4.2],[0.34,4.42],[0.39,4.12],
[0.01,4.7],[0.04,5.0],[0.07,4.75],[0.1,5.2],[0.13,4.85],[0.16,5.1],[0.2,4.78],[0.24,5.05],[0.28,4.9],[0.33,5.2],[0.38,4.82],
[0.02,5.5],[0.05,5.9],[0.08,5.4],[0.11,6.2],[0.14,5.7],[0.18,6.0],[0.22,5.45],[0.26,6.3],[0.3,5.8],[0.35,6.1],
[0.03,6.8],[0.06,7.2],[0.1,6.6],[0.15,7.0],[0.2,6.75],[0.27,6.9],[0.32,7.3]];

// denser core of the SE up cloud
const seUpDense = [[0.012,1.42],[0.028,1.37],[0.042,1.52],[0.058,1.33],[0.072,1.47],[0.088,1.41],[0.102,1.55],[0.118,1.35],[0.132,1.49],[0.148,1.42],[0.162,1.53],[0.178,1.33],[0.193,1.45],[0.21,1.4],[0.23,1.55],[0.25,1.36],[0.27,1.48],
[0.005,1.75],[0.018,1.68],[0.032,1.85],[0.048,1.66],[0.062,1.79],[0.078,1.62],[0.092,1.87],[0.108,1.7],[0.122,1.77],[0.138,1.6],[0.152,1.72],[0.168,1.88],[0.183,1.67],[0.2,1.82],[0.22,1.63],[0.24,1.74],
[0.012,2.02],[0.028,1.94],[0.042,2.12],[0.058,2.0],[0.072,2.16],[0.088,1.95],[0.102,2.1],[0.118,2.02],[0.132,2.17],[0.148,1.98],[0.163,2.06],[0.18,1.92],[0.2,2.12],[0.22,2.02],[0.24,2.14],
[0.005,2.4],[0.018,2.26],[0.032,2.36],[0.05,2.47],[0.068,2.3],[0.083,2.4],[0.098,2.24],[0.113,2.37],[0.13,2.48],[0.15,2.33],[0.17,2.44],[0.19,2.3],[0.21,2.4],
[0.015,2.66],[0.03,2.58],[0.048,2.75],[0.065,2.62],[0.08,2.7],[0.1,2.56],[0.12,2.76],[0.14,2.64],[0.16,2.7],[0.18,2.58],
[0.01,3.0],[0.025,3.5],[0.04,4.0],[0.055,2.95],[0.07,3.4],[0.085,3.85],[0.1,4.3],[0.115,3.05],[0.13,3.55],[0.145,4.1],[0.16,2.9],[0.175,3.45],[0.19,3.95],[0.205,2.75],[0.22,3.6],[0.24,4.2],[0.26,2.8],[0.28,3.5],[0.3,2.45],[0.32,3.1],[0.34,1.6],[0.36,2.3],[0.38,1.95],[0.4,2.6],[0.42,1.55],[0.44,2.1],[0.47,1.75],[0.49,2.5],[0.52,1.5],[0.56,2.2],[0.6,1.8],[0.64,1.4],[0.68,2.6],
[0.02,4.6],[0.05,5.4],[0.08,4.9],[0.12,5.6],[0.16,4.6],[0.2,5.3],[0.25,4.7],[0.3,5.5],[0.03,6.3],[0.07,6.0],[0.12,6.6],[0.18,6.4],[0.23,6.1],
[0.008,2.2],[0.022,1.55],[0.036,2.62],[0.052,1.85],[0.066,2.52],[0.082,1.3],[0.096,2.0],[0.112,2.55],[0.126,1.9],[0.142,2.35],[0.158,1.62],[0.172,2.2],[0.188,1.5],[0.205,2.6],[0.225,1.75],[0.245,2.3],[0.265,1.85],[0.285,1.45]];

// Event counts
const riCounts = {down: 379, up: 1390};
const seCounts = {down: 5105, up: 2482};

// Violin profiles: IncLevel (y) and half-width (density, in category units)
const riNT_y = [1.00,0.98,0.95,0.91,0.87,0.82,0.78,0.72,0.65,0.58,0.50,0.45,0.41,0.38,0.35,0.31,0.28,0.25,0.22,0.20,0.18,0.16,0.10,0.02];
const riNT_w = [0.245,0.28,0.315,0.335,0.338,0.33,0.335,0.355,0.38,0.40,0.42,0.44,0.455,0.45,0.42,0.32,0.26,0.20,0.13,0.085,0.055,0.046,0.044,0.044];
const riSF_y = [1.00,0.96,0.90,0.85,0.80,0.75,0.65,0.55,0.45,0.35,0.25,0.17,0.12,0.08,0.04,0.00];
const riSF_w = [0.18,0.18,0.165,0.15,0.155,0.18,0.225,0.28,0.33,0.37,0.415,0.455,0.44,0.36,0.29,0.20];
const seNT_y = [1.00,0.97,0.94,0.90,0.86,0.83,0.80,0.77,0.75,0.72,0.69,0.65,0.62,0.60,0.55,0.50,0.45,0.40,0.30,0.20,0.10,0.05,0.02,0.00];
const seNT_w = [0.237,0.26,0.26,0.23,0.21,0.20,0.22,0.28,0.345,0.39,0.43,0.446,0.43,0.406,0.345,0.30,0.27,0.246,0.215,0.185,0.13,0.092,0.077,0.068];
const seSF_y = [1.00,0.98,0.96,0.94,0.90,0.85,0.80,0.70,0.60,0.55,0.50,0.40,0.30,0.20,0.10,0.00];
const seSF_w = [0.415,0.437,0.44,0.406,0.323,0.26,0.234,0.21,0.154,0.13,0.117,0.092,0.071,0.055,0.046,0.037];
// Means
const riMeans = [0.60, 0.346];
const seMeans = [0.599, 0.804];
const groups = ['siNT','siSFSWAP'];

// ---------------- STYLE ----------------
const FONT = 'Liberation Sans, Arial, Helvetica, sans-serif';
const PURPLE = '#A4006F', ORANGE = '#FF6600', GRID = '#EBEBEB', TICK = '#4D4D4D';
const W = 899, H = 736;
const fx = p => p / W, fy = p => 1 - p / H;
const fmt1 = v => (v < 0 ? '\u2212' : '') + Math.abs(v).toFixed(1);
const fmt2 = v => v.toFixed(2);

const traces = [];
function scat(arr, color, xa, ya) {
  traces.push({type:'scatter', mode:'markers', x: arr.map(p=>p[0]), y: arr.map(p=>p[1]),
    xaxis: xa, yaxis: ya, marker:{size:3.5, color: color, line:{width:0}}, hoverinfo:'skip', cliponaxis:true});
}
function violin(levels, widths, color, mean, xa, ya) {
  const xs = widths.concat(widths.slice().reverse().map(w => -w));
  const ys = levels.concat(levels.slice().reverse());
  traces.push({type:'scatter', mode:'lines', x: xs, y: ys, fill:'toself', fillcolor: color,
    line:{color:'#333333', width:0.7, shape:'spline', smoothing:0.5}, xaxis: xa, yaxis: ya, hoverinfo:'skip'});
  traces.push({type:'scatter', mode:'markers', x:[0], y:[mean], xaxis: xa, yaxis: ya,
    marker:{size:6, color:'#000000'}, hoverinfo:'skip'});
}

scat(riDown, ORANGE, 'x', 'y');
scat(riUp.concat(riUpDense), PURPLE, 'x', 'y');
scat(seDown.concat(seDownDense), ORANGE, 'x2', 'y2');
scat(seUp.concat(seUpDense), PURPLE, 'x2', 'y2');
violin(riNT_y, riNT_w, PURPLE, riMeans[0], 'x3', 'y3');
violin(riSF_y, riSF_w, ORANGE, riMeans[1], 'x4', 'y4');
violin(seNT_y, seNT_w, PURPLE, seMeans[0], 'x5', 'y5');
violin(seSF_y, seSF_w, ORANGE, seMeans[1], 'x6', 'y6');

const tickFont = {family: FONT, size: 18, color: TICK};
function sx(domPx, range, ticks, minor, anchor) {
  return {domain:[fx(domPx[0]), fx(domPx[1])], range: range, anchor: anchor,
    tickmode:'array', tickvals: ticks, ticktext: ticks.map(fmt1),
    showgrid:true, gridcolor:GRID, gridwidth:1, zeroline:false, showline:false, ticks:'',
    tickfont: tickFont, ticklabelstandoff: 3, fixedrange:true,
    minor:{tickmode:'array', tickvals: minor, showgrid:true, gridcolor:GRID, gridwidth:1, ticks:''}};
}
function sy(domPx, range, ticks, anchor, standoff) {
  return {domain:[fy(domPx[1]), fy(domPx[0])], range: range, anchor: anchor,
    tickmode:'array', tickvals: ticks, ticktext: ticks.map(fmt1),
    showgrid:true, gridcolor:GRID, gridwidth:1, zeroline:false, showline:false, ticks:'',
    tickfont: tickFont, ticklabelstandoff: standoff, fixedrange:true};
}
function vx(domPx, label, anchor) {
  return {domain:[fx(domPx[0]), fx(domPx[1])], range:[-0.6, 0.6], anchor: anchor,
    tickmode:'array', tickvals:[0], ticktext:[label],
    showgrid:true, gridcolor:GRID, gridwidth:1, zeroline:false, showline:false, ticks:'',
    tickfont:{family: FONT, size: 22, color:'#000000'}, ticklabelstandoff: 0, fixedrange:true};
}
function vy(domPx, anchor, showLabels) {
  return {domain:[fy(domPx[1]), fy(domPx[0])], range:[-0.05, 1.05], anchor: anchor,
    tickmode:'array', tickvals:[0,0.25,0.5,0.75,1], ticktext:[0,0.25,0.5,0.75,1].map(fmt2),
    showticklabels: showLabels,
    showgrid:true, gridcolor:GRID, gridwidth:1, zeroline:false, showline:false, ticks:'',
    tickfont: {family: FONT, size: 17.5, color: TICK}, ticklabelstandoff: 6, fixedrange:true,
    minor:{tickmode:'array', tickvals:[0.125,0.375,0.625,0.875], showgrid:true, gridcolor:GRID, gridwidth:1, ticks:''}};
}

const scTop = [62, 317];
const layout = {
  width: W, height: H, margin:{l:0, r:0, t:0, b:0},
  paper_bgcolor:'#ffffff', plot_bgcolor:'rgba(0,0,0,0)', showlegend:false,
  font:{family: FONT, color:'#000000'},
  xaxis:  sx([133, 456], [-1.0, 0.878], [-1,-0.5,0,0.5], [-0.75,-0.25,0.25,0.75], 'y'),
  yaxis:  sy(scTop, [0.71, 13.4], [2.5,5,7.5,10,12.5], 'x', 6),
  xaxis2: sx([520, 853], [-1.1, 1.1], [-1,-0.5,0,0.5,1], [-0.75,-0.25,0.25,0.75], 'y2'),
  yaxis2: sy(scTop, [0.66, 13.59], [2.5,5,7.5,10,12.5], 'x2', 3),
  xaxis3: vx([168, 296], groups[0], 'y3'),
  yaxis3: vy([443, 706], 'x3', true),
  xaxis4: vx([313, 441], groups[1], 'y4'),
  yaxis4: vy([443, 706], 'x4', false),
  xaxis5: vx([558, 688], groups[0], 'y5'),
  yaxis5: vy([442, 704], 'x5', true),
  xaxis6: vx([702, 832], groups[1], 'y6'),
  yaxis6: vy([442, 704], 'x6', false),
  annotations: [
    {xref:'paper', yref:'paper', x: fx(-7), y: fy(0), xanchor:'left', yanchor:'middle', showarrow:false,
      text:'a<span style="color:#0000FF">CC-BY-NC-ND 4.0 International license</span>.', font:{family:FONT, size:21, color:'#000000'}},
    {xref:'paper', yref:'paper', x: fx(10), y: fy(18), xanchor:'left', yanchor:'middle', showarrow:false,
      text:'<b>b</b>', font:{family:FONT, size:27, color:'#000000'}},
    {xref:'paper', yref:'paper', x: fx(292), y: fy(45), xanchor:'center', yanchor:'middle', showarrow:false,
      text:'RI events', font:{family:FONT, size:28.7, color:'#000000'}},
    {xref:'paper', yref:'paper', x: fx(701), y: fy(45), xanchor:'center', yanchor:'middle', showarrow:false,
      text:'SE events', font:{family:FONT, size:28.7, color:'#000000'}},
    {xref:'paper', yref:'paper', x: fx(292), y: fy(423), xanchor:'center', yanchor:'middle', showarrow:false,
      text:'RI events', font:{family:FONT, size:28.7, color:'#000000'}},
    {xref:'paper', yref:'paper', x: fx(701), y: fy(423), xanchor:'center', yanchor:'middle', showarrow:false,
      text:'SE events', font:{family:FONT, size:28.7, color:'#000000'}},
    {xref:'paper', yref:'paper', x: fx(283), y: fy(360), xanchor:'center', yanchor:'middle', showarrow:false,
      text:'IncLevelDifference (siNT\u2212siSFSWAP)', font:{family:FONT, size:23, color:'#000000'}},
    {xref:'paper', yref:'paper', x: fx(691), y: fy(360), xanchor:'center', yanchor:'middle', showarrow:false,
      text:'IncLevelDifference (siNT\u2212siSFSWAP)', font:{family:FONT, size:23, color:'#000000'}},
    {xref:'paper', yref:'paper', x: fx(64), y: fy(183), xanchor:'center', yanchor:'middle', showarrow:false, textangle:-90,
      text:'\u2212log<sub>10</sub> (FDR)', font:{family:FONT, size:23, color:'#000000'}},
    {xref:'paper', yref:'paper', x: fx(96), y: fy(568), xanchor:'center', yanchor:'middle', showarrow:false, textangle:-90,
      text:'IncLevel', font:{family:FONT, size:23, color:'#000000'}},
    {xref:'paper', yref:'paper', x: fx(476), y: fy(570), xanchor:'center', yanchor:'middle', showarrow:false, textangle:-90,
      text:'IncLevel', font:{family:FONT, size:23, color:'#000000'}},
    {xref:'x', yref:'y', x:-0.5, y:11.13, xanchor:'center', yanchor:'middle', showarrow:false,
      text: riCounts.down + '<br>events', font:{family:FONT, size:15.5, color:ORANGE}},
    {xref:'x', yref:'y', x:0.644, y:11.13, xanchor:'center', yanchor:'middle', showarrow:false,
      text: riCounts.up + '<br>events', font:{family:FONT, size:15.5, color:PURPLE}},
    {xref:'x2', yref:'y2', x:-0.772, y:11.28, xanchor:'center', yanchor:'middle', showarrow:false,
      text: seCounts.down + '<br>events', font:{family:FONT, size:15.5, color:ORANGE}},
    {xref:'x2', yref:'y2', x:0.756, y:11.28, xanchor:'center', yanchor:'middle', showarrow:false,
      text: seCounts.up + '<br>events', font:{family:FONT, size:15.5, color:PURPLE}}
  ]
};

Plotly.newPlot('chart', traces, layout, {staticPlot:true, displayModeBar:false});
</script>
</body>
</html>
